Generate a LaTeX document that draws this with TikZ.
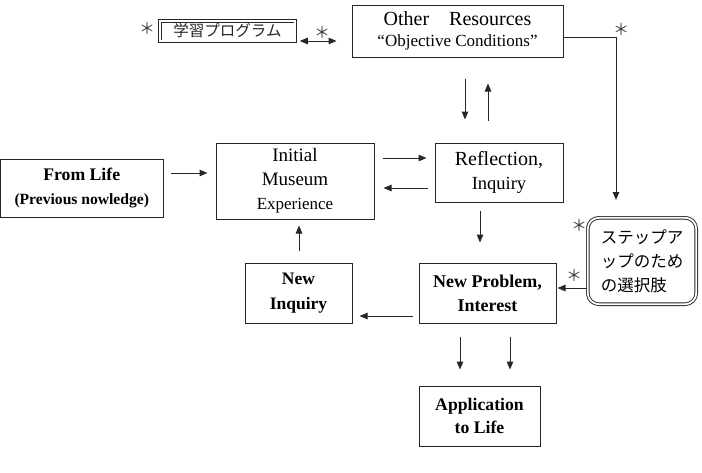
\documentclass[tikz,border=0pt]{standalone}
\usepackage{fontspec}
\setmainfont{Liberation Serif}
\newfontfamily\cjk{Noto Sans CJK JP}
\usetikzlibrary{arrows.meta}
\begin{document}
\begin{tikzpicture}[x=1pt,y=-1pt,
  box/.style={draw=black!85, line width=1pt, inner sep=0pt, align=center},
  dbox/.style={draw=black!85, line width=0.9pt, double, double distance=1.8pt, inner sep=0pt},
  arr/.style={draw=black!85, line width=1pt, -{Triangle[length=8pt,width=6.5pt]}},
  starmark/.style={text=black!75, font=\cjk\fontsize{16}{16}\selectfont, inner sep=0pt}]
\useasboundingbox (0,0) rectangle (702,472);

\node[box, minimum width=211pt, minimum height=52pt, font=\fontsize{20}{21}\selectfont] (other) at (457.5,31)
  {Other\quad Resources\\{\fontsize{17}{21}\selectfont “Objective Conditions”}};
\node[dbox, minimum width=135.6pt, minimum height=20.6pt, font=\cjk\fontsize{15.5}{15.5}\selectfont, text=black!85] (gak) at (227.5,31) {学習プログラム};
\node[box, minimum width=162.5pt, minimum height=58pt, font=\bfseries\fontsize{17.7}{24}\selectfont] (fl) at (81.75,188)
  {From Life\\{\fontsize{15.6}{24}\selectfont (Previous nowledge)}};
\node[box, minimum width=158pt, minimum height=76pt, font=\fontsize{19}{24}\selectfont] (init) at (295,181)
  {Initial\\Museum\\{\fontsize{17}{24}\selectfont Experience}};
\node[box, minimum width=128pt, minimum height=59pt, font=\fontsize{20}{24}\selectfont] (refl) at (499,172.5)
  {Reflection,\\{\fontsize{18.5}{24}\selectfont Inquiry}};
\node[dbox, rounded corners=11pt, minimum width=108.4pt, minimum height=86.4pt, align=left, font=\cjk\fontsize{16.5}{24}\selectfont] (step) at (642,261)
  {ステップア\\ップのため\\の選択肢};
\node[box, minimum width=107pt, minimum height=60pt, font=\bfseries\fontsize{17.5}{25}\selectfont] (ni) at (298.5,293)
  {New\\Inquiry};
\node[box, minimum width=137pt, minimum height=60pt, font=\bfseries\fontsize{18}{24}\selectfont] (np) at (487.5,293)
  {New Problem,\\Interest};
\node[box, minimum width=121pt, minimum height=60pt, font=\bfseries\fontsize{17.7}{23}\selectfont] (app) at (479.5,416)
  {Application\\to Life};

\node[starmark] (s1) at (147,28) {＊};
\node[starmark] (s2) at (322,32) {＊};
\node[starmark] (s3) at (621,29) {＊};
\node[starmark] (s4) at (579,225) {＊};
\node[starmark] (s5) at (574,275) {＊};

\draw[arr, {Triangle[length=8pt,width=6.5pt]}-{Triangle[length=8pt,width=6.5pt]}, shorten <=4pt, shorten >=15pt]
  (gak.east |- 0,41) -- (other.west |- 0,41);
\coordinate (stepin) at (616,200);
\draw[arr] (other.east |- 0,37) -| (stepin);
\draw[arr, shorten <=21pt, shorten >=23pt] (other.south -| 465,0) -- (refl.north -| 465,0);
\draw[arr, shorten <=22pt, shorten >=26pt] (refl.north -| 488,0) -- (other.south -| 488,0);
\draw[arr, shorten <=7pt, shorten >=8pt] (fl.east |- 0,173) -- (init.west |- 0,173);
\draw[arr, shorten <=8pt, shorten >=8pt] (init.east |- 0,158) -- (refl.west |- 0,158);
\draw[arr, shorten <=7pt, shorten >=9pt] (refl.west |- 0,188) -- (init.east |- 0,188);
\draw[arr, shorten <=8pt, shorten >=20pt] (refl.south -| 480,0) -- (np.north -| 480,0);
\draw[arr, shorten >=1pt] (step.west |- 0,288) -- (np.east |- 0,288);
\draw[arr, shorten <=6pt, shorten >=7pt] (np.west |- 0,316) -- (ni.east |- 0,316);
\draw[arr, shorten <=12pt, shorten >=6pt] (ni.north -| 299,0) -- (init.south -| 299,0);
\draw[arr, shorten <=13pt, shorten >=16pt] (np.south -| 460,0) -- (app.north -| 460,0);
\draw[arr, shorten <=13pt, shorten >=16pt] (np.south -| 510,0) -- (app.north -| 510,0);
\end{tikzpicture}
\end{document}
